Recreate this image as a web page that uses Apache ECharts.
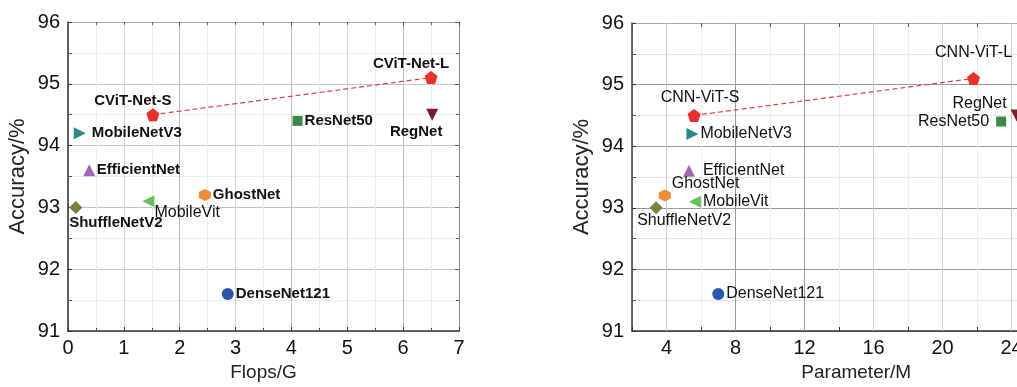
<!DOCTYPE html>
<html><head><meta charset="utf-8">
<script src="https://cdn.jsdelivr.net/npm/echarts@6/dist/echarts.min.js"></script>
<style>html,body{margin:0;padding:0;overflow:hidden;background:#fff;width:1017px;height:387px}#c{width:1100px;height:387px}</style>
</head><body><div id="c"></div>
<script>
// ---- data ----
const modelKeys = ['S','L','MobileNetV3','EfficientNet','ResNet50','RegNet','GhostNet','MobileVit','ShuffleNetV2','DenseNet121'];
const leftNames = ['CViT-Net-S','CViT-Net-L','MobileNetV3','EfficientNet','ResNet50','RegNet','GhostNet','MobileVit','ShuffleNetV2','DenseNet121'];
const rightNames = ['CNN-ViT-S','CNN-ViT-L','MobileNetV3','EfficientNet','ResNet50','RegNet','GhostNet','MobileVit','ShuffleNetV2','DenseNet121'];
const accuracy = [94.5, 95.1, 94.2, 93.6, 94.4, 94.5, 93.2, 93.1, 93.0, 91.6];
const flops = [1.52, 6.5, 0.21, 0.38, 4.11, 6.52, 2.45, 1.44, 0.14, 2.86];
const params = [5.6, 21.8, 5.5, 5.3, 23.4, 24.3, 3.9, 5.65, 3.4, 7.0];
const yTicks = [91, 92, 93, 94, 95, 96];
const xTicksLeft = [0, 1, 2, 3, 4, 5, 6, 7];
const xTicksRight = [4, 8, 12, 16, 20, 24, 28];
const xRangeRight = [2, 28];

// ---- styles ----
const pent = 'path://M0,-1 L0.951,-0.309 L0.588,0.809 L-0.588,0.809 L-0.951,-0.309 Z';
const hex = 'path://M0.866,-0.5 L0.866,0.5 L0,1 L-0.866,0.5 L-0.866,-0.5 L0,-1 Z';
const triR = 'path://M0,0 L10,5 L0,10 Z';
const triL = 'path://M10,0 L0,5 L10,10 Z';
const triD = 'path://M0,0 L10,0 L5,10 Z';
const markStyle = {
  S: {sym: pent, size: 13, color: '#e8302e'},
  L: {sym: pent, size: 13, color: '#e8302e'},
  MobileNetV3: {sym: triR, size: 12, color: '#2b8a8c'},
  EfficientNet: {sym: 'triangle', size: 12, color: '#a067b2'},
  ResNet50: {sym: 'rect', size: 10, color: '#3b8a4c'},
  RegNet: {sym: triD, size: 12, color: '#7b1d27'},
  GhostNet: {sym: hex, size: 12, color: '#f28a3c'},
  MobileVit: {sym: triL, size: 12, color: '#6cbf5b'},
  ShuffleNetV2: {sym: 'diamond', size: 13, color: '#7f7d3c'},
  DenseNet121: {sym: 'circle', size: 12, color: '#2b57a8'}
};
const leftLabel = {
  S: {position: 'top', distance: 0, offset: [-20, 0]},
  L: {position: 'top', distance: 0, offset: [-20, 0]},
  MobileNetV3: {position: 'right', distance: 6},
  EfficientNet: {position: 'right', distance: 1.5},
  ResNet50: {position: 'right', distance: 2},
  RegNet: {position: 'bottom', distance: 4, offset: [-16, 0]},
  GhostNet: {position: 'right', distance: 2},
  MobileVit: {position: 'right', distance: 0, offset: [0, 11], fontWeight: 'normal', fontSize: 16},
  ShuffleNetV2: {position: 'bottom', distance: 1.5, offset: [40, 0]},
  DenseNet121: {position: 'right', distance: 2}
};
const rightLabel = {
  S: {position: 'top', distance: 3, offset: [6, 0]},
  L: {position: 'top', distance: 11},
  MobileNetV3: {position: 'right', distance: 2},
  EfficientNet: {position: 'right', distance: 8},
  ResNet50: {position: 'left', distance: 7},
  RegNet: {position: 'left', distance: 4, offset: [0, -12]},
  GhostNet: {position: 'right', distance: 1, offset: [0, -12]},
  MobileVit: {position: 'right', distance: 2},
  ShuffleNetV2: {position: 'bottom', distance: 0, offset: [28, -2]},
  DenseNet121: {position: 'right', distance: 2}
};
const rightMajorColor = v => (v === 8 || v === 12) ? '#9a9a9a' : '#cdcdcd';

const FONT = 'Liberation Sans, Arial, sans-serif';
const tickLab = {fontSize: 20, color: '#111', fontFamily: FONT};

function yAxesFor(gi, gridCol, minorCol) {
  return [
    {gridIndex: gi, type: 'value', min: yTicks[0], max: yTicks[yTicks.length - 1], interval: 1, position: 'left',
     name: 'Accuracy/%', nameLocation: 'middle', nameGap: 39, nameTextStyle: {fontSize: 22, color: '#222', fontFamily: FONT},
     axisLine: {onZero: false, lineStyle: {color: '#333', width: 1.5}},
     axisTick: {inside: true, length: 4, lineStyle: {color: '#333'}},
     minorTick: {show: true, splitNumber: 2, length: 4, lineStyle: {color: '#555'}},
     axisLabel: Object.assign({margin: 8}, tickLab),
     splitLine: {show: true, lineStyle: {color: gridCol, width: 1}},
     minorSplitLine: {show: true, lineStyle: {color: minorCol, width: 1}}},
    {gridIndex: gi, type: 'value', min: yTicks[0], max: yTicks[yTicks.length - 1], interval: 1, position: 'right',
     axisLine: {onZero: false, lineStyle: {color: '#888', width: 1}},
     axisTick: {inside: true, length: 4, lineStyle: {color: '#555'}},
     minorTick: {show: true, splitNumber: 2, length: 3, lineStyle: {color: '#555'}},
     axisLabel: {show: false}, splitLine: {show: false}}
  ];
}
const xName = (n) => ({name: n, nameLocation: 'middle', nameGap: 32, nameTextStyle: {fontSize: 19, color: '#222', fontFamily: FONT}});

const xAxes = [
  Object.assign({gridIndex: 0, type: 'value', min: xTicksLeft[0], max: xTicksLeft[xTicksLeft.length - 1], interval: 1, position: 'bottom',
   axisLine: {onZero: false, lineStyle: {color: '#333', width: 1.5}},
   axisTick: {inside: true, length: 4, lineStyle: {color: '#333'}},
   minorTick: {show: true, splitNumber: 2, length: 3, lineStyle: {color: '#555'}},
   axisLabel: Object.assign({margin: 7}, tickLab),
   splitLine: {show: true, lineStyle: {color: '#d6d6d6', width: 1}},
   minorSplitLine: {show: true, lineStyle: {color: '#ececec', width: 1}}}, xName('Flops/G')),
  {gridIndex: 0, type: 'value', min: xTicksLeft[0], max: xTicksLeft[xTicksLeft.length - 1], interval: 2, position: 'top',
   axisLine: {onZero: false, lineStyle: {color: '#aaa', width: 1}},
   axisTick: {inside: true, length: 4, lineStyle: {color: '#555'}},
   minorTick: {show: true, splitNumber: 4, length: 3, lineStyle: {color: '#666'}},
   axisLabel: {show: false},
   splitLine: {show: true, lineStyle: {color: '#bdbdbd', width: 1}}},
  Object.assign({gridIndex: 1, type: 'value', min: xRangeRight[0], max: xRangeRight[1], interval: 2, position: 'bottom',
   axisLine: {onZero: false, lineStyle: {color: '#333', width: 1.5}},
   axisTick: {inside: true, length: 4, lineStyle: {color: '#333'}},
   axisLabel: Object.assign({margin: 7, formatter: v => (xTicksRight.indexOf(v) >= 0 ? String(v) : '')}, tickLab),
   splitLine: {show: true, lineStyle: {color: '#ececec', width: 1}}}, xName('Parameter/M')),
  {gridIndex: 1, type: 'value', min: xRangeRight[0], max: xRangeRight[1], interval: 2, position: 'top',
   axisLine: {onZero: false, lineStyle: {color: '#aaa', width: 1}},
   axisTick: {inside: true, length: 4, lineStyle: {color: '#555'}},
   axisLabel: {show: false}, splitLine: {show: false}}
];
const yAxes = [...yAxesFor(0, '#c4c4c4', '#ececec'), ...yAxesFor(1, '#9a9a9a', '#e6e6e6')];

function makeSeries(xs, names, labelCfg, xi, yi, leftBold, majorLines) {
  const out = [];
  const line = {type: 'line', xAxisIndex: xi, yAxisIndex: yi, symbol: 'none', silent: true, z: 2,
    lineStyle: {color: '#e0403a', width: 1.2, type: [5, 3]},
    data: [[xs[0], accuracy[0]], [xs[1], accuracy[1]]]};
  if (majorLines) {
    line.markLine = {silent: true, symbol: 'none', label: {show: false}, animation: false, z: 1,
      data: majorLines.map(v => ({xAxis: v, lineStyle: {color: rightMajorColor(v), width: 1, type: 'solid'}}))};
  }
  out.push(line);
  modelKeys.forEach((k, i) => {
    const ms = markStyle[k];
    const lc = labelCfg[k];
    out.push({type: 'scatter', xAxisIndex: xi, yAxisIndex: yi, z: 3,
      symbol: ms.sym, symbolSize: ms.size, itemStyle: {color: ms.color, opacity: 1},
      label: {show: true, formatter: names[i], position: lc.position, distance: lc.distance,
        offset: lc.offset || [0, 0], color: '#111', fontFamily: FONT,
        fontSize: lc.fontSize || (leftBold ? 15 : 16), fontWeight: lc.fontWeight || (leftBold ? 'bold' : 'normal')},
      data: [[xs[i], accuracy[i]]]});
  });
  return out;
}

const chart = echarts.init(document.getElementById('c'), null, {renderer: 'canvas'});
chart.setOption({
  animation: false,
  backgroundColor: '#fff',
  grid: [
    {left: 68, top: 22, width: 391, height: 313},
    {left: 632, top: 23, width: 448.5, height: 314}
  ],
  xAxis: xAxes,
  yAxis: yAxes,
  series: [
    ...makeSeries(flops, leftNames, leftLabel, 0, 0, true, null),
    ...makeSeries(params, rightNames, rightLabel, 2, 2, false, xTicksRight.slice(0, -1))
  ]
});
</script></body></html>
